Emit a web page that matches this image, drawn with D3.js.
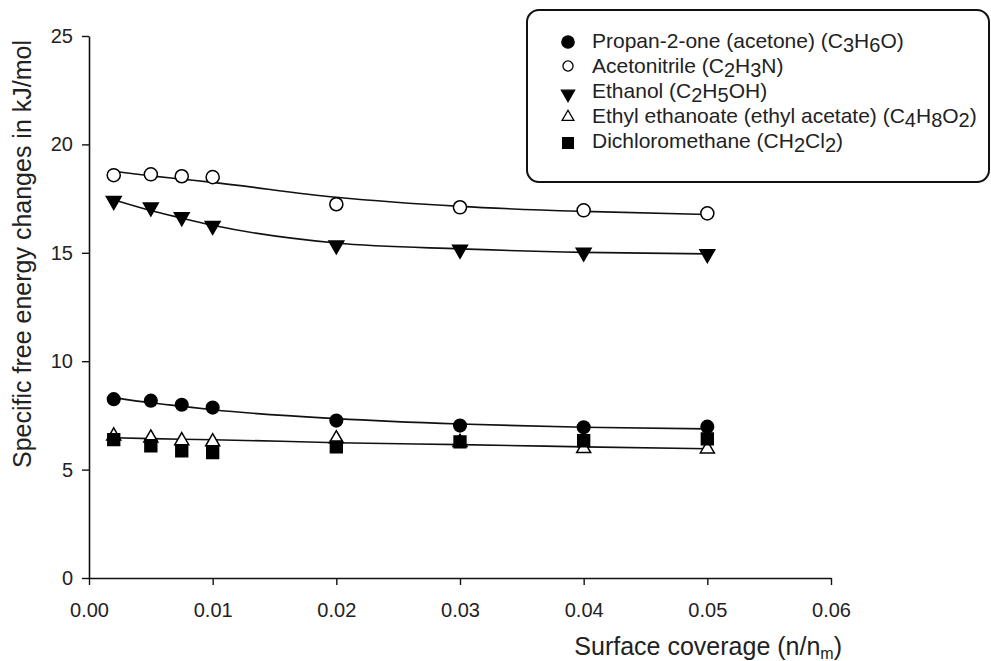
<!DOCTYPE html>
<html>
<head>
<meta charset="utf-8">
<script src="https://cdn.jsdelivr.net/npm/d3@7/dist/d3.min.js"></script>
<style>
  html, body { margin: 0; padding: 0; background: #fff; }
  svg { display: block; font-family: "Liberation Sans", Arial, sans-serif; }
</style>
</head>
<body>
<svg id="chart" width="991" height="661"></svg>
<script>
// surface coverage values (n/nm)
const coverage = [0.002, 0.005, 0.0075, 0.01, 0.02, 0.03, 0.04, 0.05];

// measured specific free energy changes, kJ/mol
const acetone = [8.25, 8.18, 7.99, 7.86, 7.26, 7.03, 6.95, 6.98];
const acetonitrile = [18.58, 18.62, 18.53, 18.49, 17.24, 17.10, 16.96, 16.82];
const ethanol = [17.35, 17.05, 16.60, 16.20, 15.30, 15.10, 14.97, 14.90];
const ethylAcetate = [6.60, 6.50, 6.38, 6.33, 6.47, 6.30, 6.02, 6.00];
const dichloromethane = [6.38, 6.10, 5.87, 5.78, 6.05, 6.28, 6.33, 6.42];

// fitted curves
const fitAcetone = [8.32, 8.08, 7.92, 7.76, 7.35, 7.10, 6.95, 6.88];
const fitAcetonitrile = [18.76, 18.55, 18.40, 18.25, 17.56, 17.14, 16.91, 16.77];
const fitEthanol = [17.45, 16.95, 16.60, 16.27, 15.45, 15.18, 15.02, 14.95];
const fitEthylAcetate = [6.47, 6.43, 6.40, 6.38, 6.24, 6.15, 6.05, 5.96];

const xTicks = [0, 0.01, 0.02, 0.03, 0.04, 0.05, 0.06];
const yTicks = [0, 5, 10, 15, 20, 25];

const legendLabels = [
  ['Propan-2-one (acetone) (C', ['3'], 'H', ['6'], 'O)'],
  ['Acetonitrile (C', ['2'], 'H', ['3'], 'N)'],
  ['Ethanol (C', ['2'], 'H', ['5'], 'OH)'],
  ['Ethyl ethanoate (ethyl acetate) (C', ['4'], 'H', ['8'], 'O', ['2'], ')'],
  ['Dichloromethane (CH', ['2'], 'Cl', ['2'], ')']
];

const margin = { top: 36, right: 160, bottom: 83, left: 89 };
const width = 991;
const height = 661;

const svg = d3.select('#chart');

const x = d3.scaleLinear().domain([0, 0.06]).range([margin.left, width - margin.right]);
const y = d3.scaleLinear().domain([0, 25]).range([height - margin.bottom, margin.top]);

// axes
const axisX = svg.append('g')
  .attr('transform', `translate(0,${y(0)})`)
  .call(d3.axisBottom(x).tickValues(xTicks).tickFormat(d3.format('.2f')).tickSize(7).tickSizeOuter(0).tickPadding(18));

const axisY = svg.append('g')
  .attr('transform', `translate(${x(0)},0)`)
  .call(d3.axisLeft(y).tickValues(yTicks).tickSize(7).tickSizeOuter(0).tickPadding(9));

[axisX, axisY].forEach((g) => {
  g.select('.domain').attr('stroke', '#111').attr('stroke-width', 1.6);
  g.selectAll('.tick line').attr('stroke', '#111').attr('stroke-width', 1.4);
  g.selectAll('.tick text').attr('fill', '#222').attr('font-size', 20).attr('font-family', '"Liberation Sans", Arial, sans-serif');
});

svg.append('text')
  .attr('transform', 'translate(31,254) rotate(-90)')
  .attr('text-anchor', 'middle')
  .attr('font-size', 25)
  .attr('fill', '#222')
  .text('Specific free energy changes in kJ/mol');

const xTitle = svg.append('text')
  .attr('x', 842)
  .attr('y', 655)
  .attr('text-anchor', 'end')
  .attr('font-size', 25)
  .attr('fill', '#222');
xTitle.append('tspan').text('Surface coverage (n/n');
xTitle.append('tspan').attr('font-size', 16).attr('dy', 4).text('m');
xTitle.append('tspan').attr('dy', -4).text(')');

// fitted lines
const line = d3.line()
  .x((d) => x(d[0]))
  .y((d) => y(d[1]))
  .curve(d3.curveMonotoneX);

[fitAcetonitrile, fitEthanol, fitAcetone, fitEthylAcetate].forEach((fit) => {
  svg.append('path')
    .datum(coverage.map((c, i) => [c, fit[i]]))
    .attr('fill', 'none')
    .attr('stroke', '#111')
    .attr('stroke-width', 1.6)
    .attr('d', line);
});

// markers
const series = [
  { values: ethylAcetate, type: d3.symbolTriangle, size: 85, fill: '#fff', rotate: 0, dy: 1 },
  { values: dichloromethane, type: d3.symbolSquare, size: 140, fill: '#000', rotate: 0, dy: 0 },
  { values: acetonitrile, type: d3.symbolCircle, size: 135, fill: '#fff', rotate: 0, dy: 0 },
  { values: ethanol, type: d3.symbolTriangle, size: 95, fill: '#000', rotate: 180, dy: -1 },
  { values: acetone, type: d3.symbolCircle, size: 125, fill: '#000', rotate: 0, dy: 0 }
];

series.forEach((s) => {
  svg.append('g')
    .selectAll('path')
    .data(coverage.map((c, i) => [c, s.values[i]]))
    .join('path')
    .attr('transform', (d) => `translate(${x(d[0])},${y(d[1]) + s.dy}) rotate(${s.rotate})`)
    .attr('d', d3.symbol().type(s.type).size(s.size))
    .attr('fill', s.fill)
    .attr('stroke', '#000')
    .attr('stroke-width', 1.5);
});

// legend
const legend = svg.append('g');
legend.append('rect')
  .attr('x', 527)
  .attr('y', 10)
  .attr('width', 462)
  .attr('height', 172)
  .attr('rx', 12)
  .attr('fill', '#fff')
  .attr('stroke', '#111')
  .attr('stroke-width', 2);

const legendMarkers = [
  { type: d3.symbolCircle, size: 120, fill: '#000', rotate: 0, dy: -6 },
  { type: d3.symbolCircle, size: 80, fill: '#fff', rotate: 0, dy: -7 },
  { type: d3.symbolTriangle, size: 75, fill: '#000', rotate: 180, dy: -4 },
  { type: d3.symbolTriangle, size: 60, fill: '#fff', rotate: 0, dy: -6 },
  { type: d3.symbolSquare, size: 115, fill: '#000', rotate: 0, dy: -5 }
];

legendLabels.forEach((parts, i) => {
  const baseY = 48 + i * 25;
  const m = legendMarkers[i];
  legend.append('path')
    .attr('transform', `translate(568,${baseY + m.dy}) rotate(${m.rotate})`)
    .attr('d', d3.symbol().type(m.type).size(m.size))
    .attr('fill', m.fill)
    .attr('stroke', '#000')
    .attr('stroke-width', 1.3);
  const t = legend.append('text')
    .attr('x', 592)
    .attr('y', baseY)
    .attr('font-size', 21)
    .attr('fill', '#222');
  let shifted = false;
  parts.forEach((p) => {
    if (Array.isArray(p)) {
      t.append('tspan').attr('dy', shifted ? 0 : 4).attr('font-size', 20).text(p[0]);
      shifted = true;
    } else {
      t.append('tspan').attr('dy', shifted ? -4 : 0).text(p);
      shifted = false;
    }
  });
});
</script>
</body>
</html>
